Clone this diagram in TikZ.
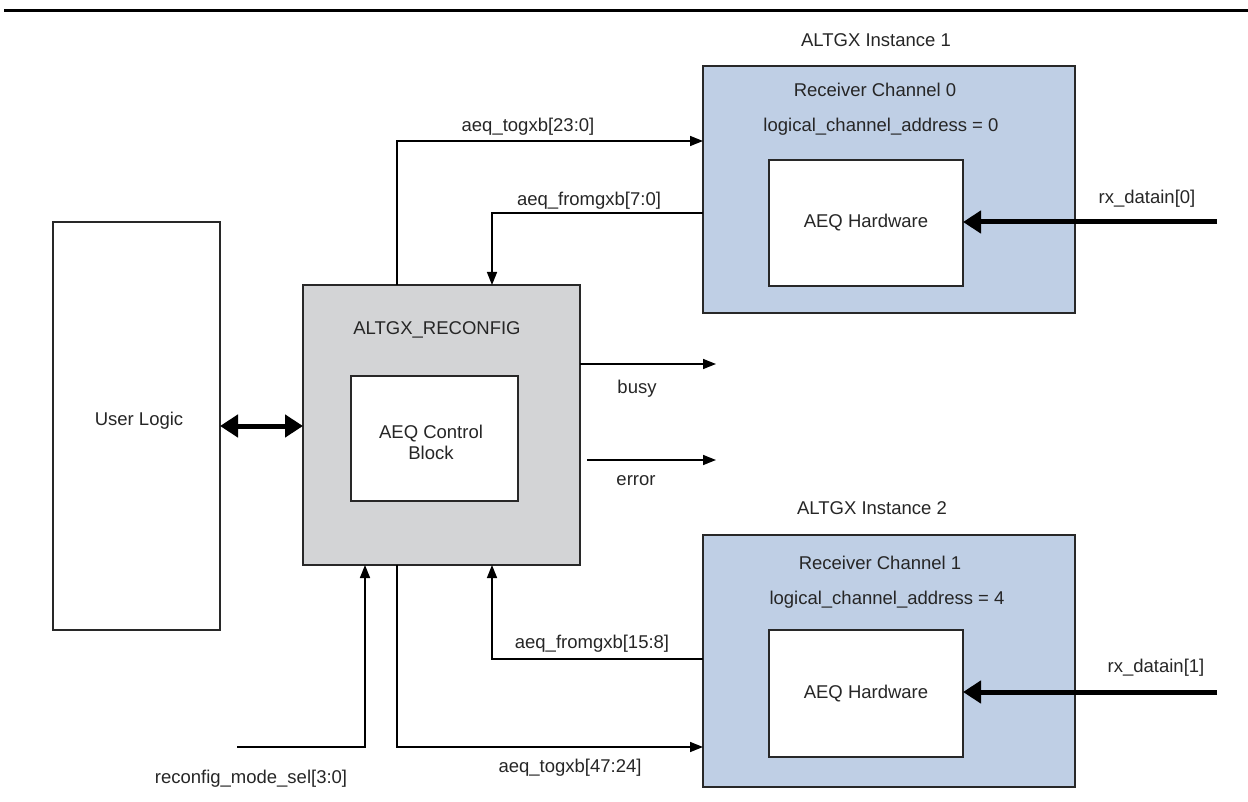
\documentclass[tikz,border=0pt]{standalone}
\usepackage{fontspec}
\setmainfont{Liberation Sans}
\usetikzlibrary{arrows.meta,calc}
\definecolor{chanblue}{RGB}{191,207,229}
\definecolor{reconfgray}{RGB}{211,212,214}
\definecolor{linegray}{RGB}{40,40,40}
\tikzset{
  box/.style={draw=linegray, line width=1.5pt, rectangle, inner sep=0pt, outer sep=0pt, anchor=north west},
  lbl/.style={inner sep=0pt, outer sep=0pt, font=\fontsize{18.5}{21}\selectfont, text=black!85},
  sig/.style={draw=black, line width=1.5pt, -{Triangle[length=13pt,width=10pt]}},
  wire/.style={draw=black, line width=1.5pt},
  bus/.style={draw=black, line width=5pt, -{Triangle[length=18pt,width=22pt]}},
  dbus/.style={draw=black, line width=5pt, {Triangle[length=18pt,width=22pt]}-{Triangle[length=18pt,width=22pt]}},
}
\begin{document}
\begin{tikzpicture}[x=1pt,y=-1pt]
\useasboundingbox (0,0) rectangle (1248,802);
% top rule
\draw[line width=3pt] (4,10.5) -- (1248,10.5);

% ALTGX instance 1
\node[lbl] (t1) at (876,40) {ALTGX Instance 1};
\node[box, fill=chanblue, minimum width=372pt, minimum height=247pt] (inst1) at (703,66) {};
\node[lbl] (rc0) at (875,90) {Receiver Channel 0};
\node[lbl] (lca0) at (881,127) {logical\_channel\_address = 0};
\node[box, fill=white, minimum width=194pt, minimum height=126pt] (hw1) at (769,160) {};
\node[lbl] at (hw1.center) {AEQ Hardware};
\node[lbl] (rx0) at (1147,199) {rx\_datain[0]};
\coordinate (rx0in) at (1217,222);

% ALTGX instance 2
\node[lbl] (t2) at (872,508) {ALTGX Instance 2};
\node[box, fill=chanblue, minimum width=372pt, minimum height=252pt] (inst2) at (703,535) {};
\node[lbl] (rc1) at (880,563) {Receiver Channel 1};
\node[lbl] (lca1) at (887,600) {logical\_channel\_address = 4};
\node[box, fill=white, minimum width=194pt, minimum height=127pt] (hw2) at (769,630) {};
\node[lbl] at (hw2.center) {AEQ Hardware};
\node[lbl] (rx1) at (1156,668) {rx\_datain[1]};
\coordinate (rx1in) at (1217,692);

% User logic
\node[box, fill=white, minimum width=167pt, minimum height=408pt] (user) at (53,222) {};
\node[lbl] at (139,421) {User Logic};

% ALTGX_RECONFIG
\node[box, fill=reconfgray, minimum width=277pt, minimum height=280pt] (reconf) at (303,285) {};
\node[lbl] (rtitle) at (437,330) {ALTGX\_RECONFIG};
\node[box, fill=white, minimum width=167pt, minimum height=125pt] (ctrl) at (351,376) {};
\node[lbl, align=center] at (431,442) {AEQ Control\\Block};

% connectors
\draw[bus] (rx0in) -- (hw1.east |- rx0in);
\draw[bus] (rx1in) -- (hw2.east |- rx1in);
\draw[dbus] (user.east |- 0,426) -- (reconf.west |- 0,426);

\draw[sig] ($(reconf.north west)+(94,0)$) |- ($(inst1.north west)+(0,75)$);
\node[lbl] at (528,127) {aeq\_togxb[23:0]};
\draw[sig] ($(inst1.north west)+(0,147)$) -| ($(reconf.north west)+(189,0)$);
\node[lbl] at (589,201) {aeq\_fromgxb[7:0]};

\coordinate (busyend) at (716,364);
\coordinate (errstart) at (587,460);
\coordinate (errend) at (716,460);
\draw[sig] (reconf.east |- busyend) -- (busyend);
\node[lbl] at (637,389) {busy};
\draw[sig] (errstart) -- (errend);
\node[lbl] at (636,481) {error};

\draw[sig] ($(inst2.north west)+(0,124)$) -| ($(reconf.south west)+(189,0)$);
\node[lbl] at (592,644) {aeq\_fromgxb[15:8]};
\draw[sig] ($(reconf.south west)+(94,0)$) |- ($(inst2.north west)+(0,212)$);
\node[lbl] at (570,768) {aeq\_togxb[47:24]};

\coordinate (modein) at (237,747);
\draw[sig] (modein) -| ($(reconf.south west)+(62,0)$);
\node[lbl] at (251,779) {reconfig\_mode\_sel[3:0]};
\end{tikzpicture}
\end{document}
